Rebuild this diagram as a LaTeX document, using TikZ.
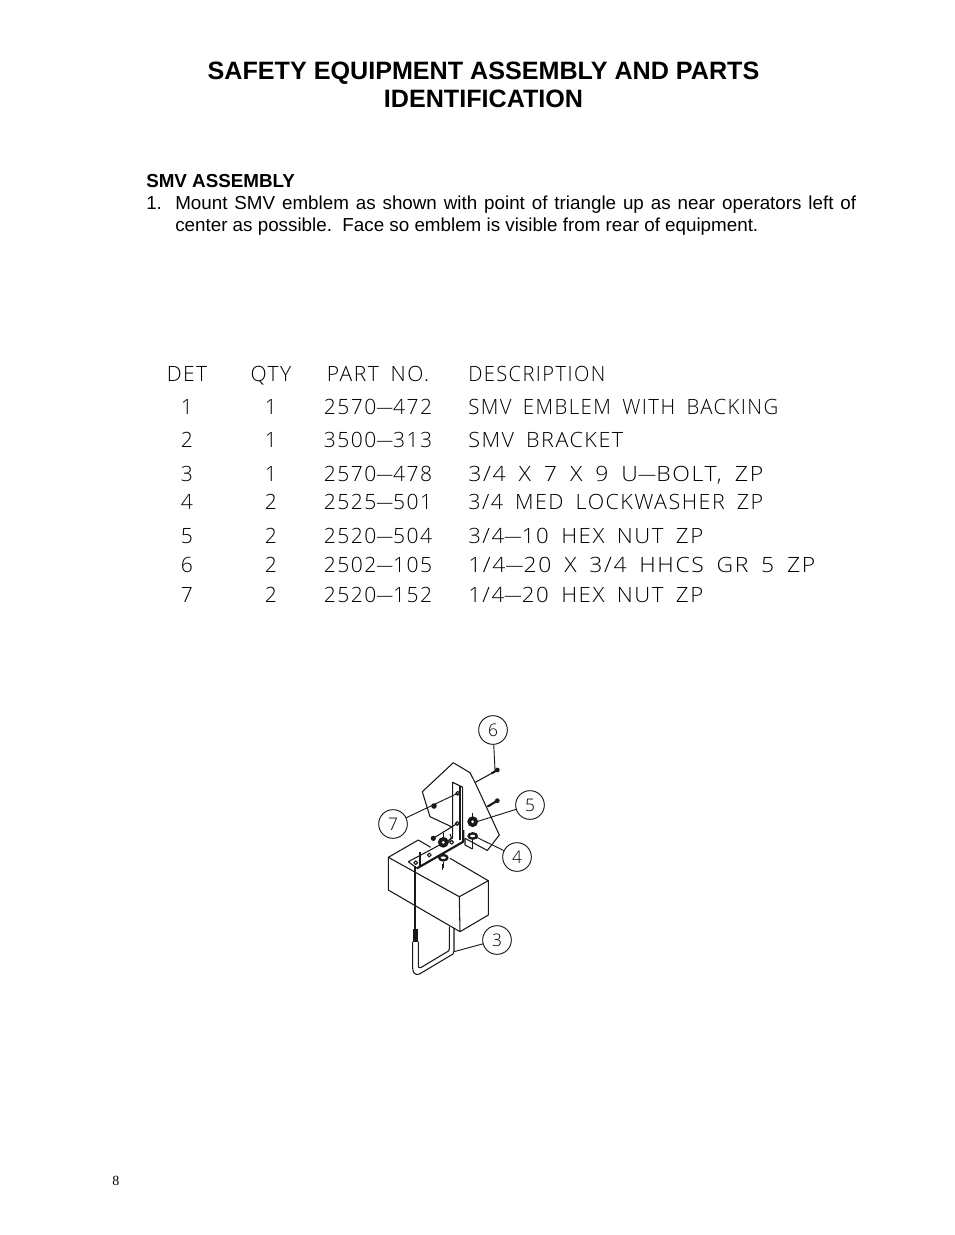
\documentclass[tikz,border=0pt]{standalone}
\usepackage{fontspec}
\usepackage{graphicx}
\setmainfont{Liberation Sans}
\newfontfamily\serifpg{Liberation Serif}
\newfontfamily\cadfont[LetterSpace=7,WordSpace=1.7]{Open Sans Light}
\newcommand{\cdash}{\scalebox{0.8}[1]{—}}
\tikzset{
  tbl/.style={anchor=base west,inner sep=0pt,text=black,font=\cadfont\fontsize{15.8}{18}\selectfont},
  tblc/.style={tbl,anchor=base},
  part/.style={line width=0.8pt,draw=black!90,line join=round},
  heavy/.style={line width=1.6pt,draw=black!90,line join=round},
  blob/.style={fill=black!90,draw=none},
  balloon/.style={circle,draw=black!90,line width=0.7pt,minimum size=21.5pt,inner sep=0pt,text=black,font=\cadfont\fontsize{13}{15}\selectfont},
  ldr/.style={line width=0.7pt,draw=black!90},
  body/.style={anchor=base west,inner sep=0pt,font=\fontsize{14.1}{16.5}\selectfont},
  ttl/.style={anchor=base,inner sep=0pt,font=\bfseries\fontsize{18.85}{21}\selectfont}
}
\begin{document}
\begin{tikzpicture}[x=0.75pt,y=-0.75pt]
\useasboundingbox (0,0) rectangle (954,1235);
\node[ttl] (t1) at (483.5,79) {SAFETY EQUIPMENT ASSEMBLY AND PARTS};
\node[ttl] (t2) at (483.5,107) {IDENTIFICATION};
\node[body,font=\bfseries\fontsize{14.1}{16.5}\selectfont] (h) at (146,187) {SMV ASSEMBLY};
\node[body] (n1) at (146,209) {1.};
\node[body,text width=510.75pt,align=justify,anchor=north west] (p) at (175,195.5) {Mount SMV emblem as shown with point of triangle up as near operators left of center as possible.\ \ Face so emblem is visible from rear of equipment.};
% table
\foreach \d/\q/\p/\t/\y/\w in {DET/QTY/{PART NO.}/DESCRIPTION/381/137,
 1/1/{2570\cdash472}/{SMV EMBLEM WITH BACKING}/414/310,
 2/1/{3500\cdash313}/{SMV BRACKET}/447/155,
 3/1/{2570\cdash478}/{3/4 X 7 X 9 U\cdash BOLT, ZP}/481/295,
 4/2/{2525\cdash501}/{3/4 MED LOCKWASHER ZP}/509/295,
 5/2/{2520\cdash504}/{3/4\cdash10 HEX NUT ZP}/543/235,
 6/2/{2502\cdash105}/{1/4\cdash20 X 3/4 HHCS GR 5 ZP}/572/347,
 7/2/{2520\cdash152}/{1/4\cdash20 HEX NUT ZP}/602/235}{
  \node[tblc] at (187,\y) {\d};
  \node[tblc] at (271,\y) {\q};
  \node[tblc] at (378,\y) {\p};
  \pgfmathsetlengthmacro{\wpt}{\w*0.75pt}
  \node[tbl] at (468,\y) {\resizebox{\wpt}{\height}{\t}};
}
\node[anchor=base west,inner sep=0pt,font=\serifpg\fontsize{10.5}{12}\selectfont] (pg) at (112,1185) {8};
% emblem
\draw[part] (465,838.3) -- (487.3,850.5) -- (499.3,835) -- (475.3,783) -- (470,772.7) -- (453.3,762.7) -- (422.3,791.7) -- (430,816.7) -- (452,827);
% bracket
\draw[part] (452.7,838) -- (452.7,782.3) -- (462.7,787.3) -- (462.7,841.7);
\draw[part] (460,786) -- (460,840);
\draw[part] (408.3,861.7) -- (452.7,838);
\draw[part] (408.3,861.7) -- (416.7,868);
\draw[heavy] (416.7,868.5) -- (463.3,841.7) -- (463.3,830);
\foreach \x/\y in {457.7/793.3,457.2/823.5,415.7/862.7,429.3/855,451.7/842.3}
  \draw[part] (\x,\y) circle (1.9);
% box
\draw[part] (430.7,847.3) -- (418.3,840) -- (388.3,857.3) -- (459.3,896.7) -- (488.3,880.7) -- (450,858.3);
\draw[part] (388.3,857.3) -- (388.3,890) -- (460,931.7) -- (488.3,915) -- (488.3,880.7);
\draw[part] (459.3,896.7) -- (460,931.7);
\draw[part] (420,852) -- (420,866);
\draw[part] (442.7,864) -- (442.7,870);
\draw[part] (465,838) -- (465,845) -- (472.5,849);
\draw[part] (472.5,840) -- (472.5,849);
% nuts and washers
\foreach \x/\y in {472.7/821.7,443.3/842.3}{
  \fill[blob] (\x,\y) circle (5.4);
  \fill[white] (\x,\y) circle (1.5);
  \draw[part] (\x,\y-9) -- (\x,\y-4);
}
\foreach \x/\y in {472.7/836,443.3/857.7}{
  \fill[blob] (\x,\y) ellipse (5.4 and 3.9);
  \fill[white] (\x,\y) ellipse (2.6 and 1.3);
}
\draw[part] (443.3,862) -- (443.3,868);
% small hardware
\draw[heavy,line cap=round] (491.7,773.3) -- (497.3,770);
\fill[blob] (497.3,770) circle (2.4);
\draw[heavy,line cap=round] (488,806.3) -- (497.3,800.7);
\fill[blob] (497.3,800.7) circle (2.4);
\fill[blob] (434,806) circle (2.8);
\fill[blob] (433.3,838.3) circle (2.6);
\draw[part] (433.3,838.3) -- (457.2,823.5);
\draw[part] (475.3,782.3) -- (491.7,773.3);
\draw[part] (448,843) .. controls (452,838) and (452,836) .. (450,834);
% U-bolt
\draw[part] (415,866) -- (415,930);
\fill[blob] (412.7,929.3) rectangle (418.3,941.7);
\draw[part] (412.7,941.7) -- (412.7,968.3) .. controls (412.7,972) and (415,976) .. (419.5,974) -- (453,954) .. controls (454,953.3) and (454,953) .. (454,951) -- (454,928);
\draw[part] (418.3,941.7) -- (418.3,965) .. controls (418.3,967.5) and (419,968.5) .. (421,967.5) -- (448.5,951) .. controls (449.3,950.5) and (449.3,950) .. (449.3,949) -- (449.3,926.7);
% balloons
\node[balloon] (b6) at (493,730) {6};
\node[balloon] (b7) at (393,824) {7};
\node[balloon] (b5) at (530,805) {5};
\node[balloon] (b4) at (517,857) {4};
\node[balloon] (b3) at (497,940) {3};
\coordinate (c6) at (495,770);
\coordinate (c7) at (457.7,793.3);
\coordinate (c5) at (475,822.2);
\coordinate (c4) at (475,836.5);
\coordinate (c3) at (454,951.7);
\draw[ldr] (b6) -- (c6);
\draw[ldr] (b7) -- (c7);
\draw[ldr] (b5) -- (c5);
\draw[ldr] (b4) -- (c4);
\draw[ldr] (b3) -- (c3);
\end{tikzpicture}
\end{document}
